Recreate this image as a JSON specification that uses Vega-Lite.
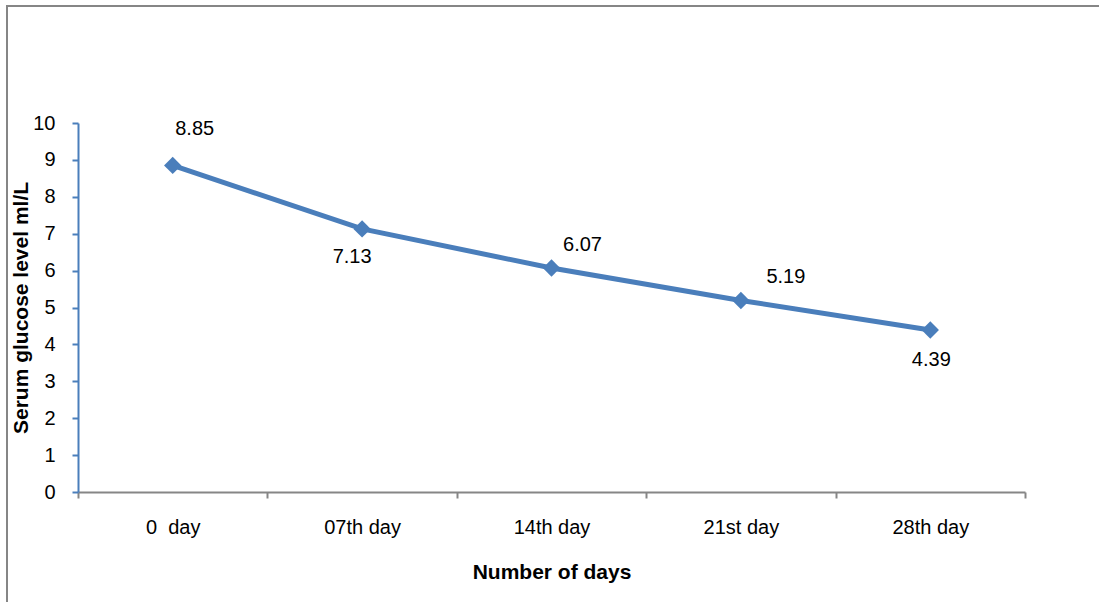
{
  "$schema": "https://vega.github.io/schema/vega-lite/v6.json",
  "width": 1112,
  "height": 612,
  "autosize": {"type": "none"},
  "padding": {"left": 7, "top": 6, "right": -20, "bottom": -16},
  "background": "white",
  "config": {
    "view": {"stroke": "#868686", "strokeWidth": 2},
    "font": "Liberation Sans"
  },
  "data": {
    "values": [
      {"day": "0\u00a0 day", "value": 8.85},
      {"day": "07th day", "value": 7.13},
      {"day": "14th day", "value": 6.07},
      {"day": "21st day", "value": 5.19},
      {"day": "28th day", "value": 4.39}
    ]
  },
  "encoding": {
    "x": {
      "field": "day",
      "type": "nominal",
      "sort": null,
      "scale": {"type": "band", "range": [71, 1018], "paddingInner": 0, "paddingOuter": 0},
      "axis": {
        "title": "Number of days",
        "titleFont": "Liberation Sans",
        "titleFontSize": 21,
        "titleFontWeight": "bold",
        "titleColor": "black",
        "titlePadding": 24,
        "labelFont": "Liberation Sans",
        "labelFontSize": 20,
        "labelColor": "black",
        "labelPadding": 19,
        "labelAngle": 0,
        "domainColor": "#868686",
        "domainWidth": 2,
        "tickColor": "#868686",
        "tickWidth": 2,
        "tickSize": 6,
        "tickBand": "extent",
        "offset": -126,
        "grid": false
      }
    },
    "y": {
      "field": "value",
      "type": "quantitative",
      "scale": {"domain": [0, 10], "range": [486, 117], "nice": false, "zero": true},
      "axis": {
        "title": "Serum glucose level ml/L",
        "titleFont": "Liberation Sans",
        "titleFontSize": 21,
        "titleFontWeight": "bold",
        "titleColor": "black",
        "titlePadding": 1,
        "labelFont": "Liberation Sans",
        "labelFontSize": 20,
        "labelColor": "black",
        "labelPadding": 17,
        "values": [0, 1, 2, 3, 4, 5, 6, 7, 8, 9, 10],
        "domainColor": "#4a7ebb",
        "domainWidth": 2,
        "tickColor": "#4a7ebb",
        "tickWidth": 2,
        "tickSize": 6,
        "offset": -71,
        "grid": false
      }
    }
  },
  "layer": [
    {"mark": {"type": "line", "color": "#4a7ebb", "strokeWidth": 5}},
    {"mark": {"type": "point", "shape": "diamond", "filled": true, "size": 300, "color": "#4a7ebb", "opacity": 1}},
    {
      "transform": [{"filter": "datum.value == 8.85"}],
      "mark": {"type": "text", "fontSize": 20, "color": "black", "dx": 22, "dy": -36},
      "encoding": {"text": {"field": "value", "type": "quantitative", "format": ".2f"}}
    },
    {
      "transform": [{"filter": "datum.value == 7.13"}],
      "mark": {"type": "text", "fontSize": 20, "color": "black", "dx": -10, "dy": 28},
      "encoding": {"text": {"field": "value", "type": "quantitative", "format": ".2f"}}
    },
    {
      "transform": [{"filter": "datum.value == 6.07"}],
      "mark": {"type": "text", "fontSize": 20, "color": "black", "dx": 31, "dy": -23},
      "encoding": {"text": {"field": "value", "type": "quantitative", "format": ".2f"}}
    },
    {
      "transform": [{"filter": "datum.value == 5.19"}],
      "mark": {"type": "text", "fontSize": 20, "color": "black", "dx": 45, "dy": -23},
      "encoding": {"text": {"field": "value", "type": "quantitative", "format": ".2f"}}
    },
    {
      "transform": [{"filter": "datum.value == 4.39"}],
      "mark": {"type": "text", "fontSize": 20, "color": "black", "dx": 1, "dy": 30},
      "encoding": {"text": {"field": "value", "type": "quantitative", "format": ".2f"}}
    }
  ]
}
